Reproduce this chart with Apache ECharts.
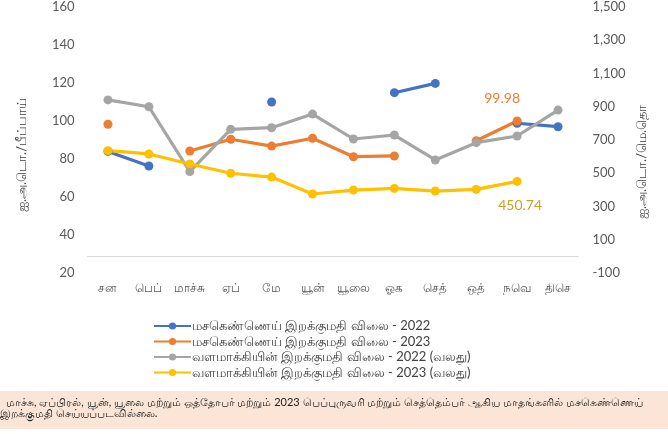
<!DOCTYPE html>
<html>
<head>
<meta charset="utf-8">
<script src="https://cdn.jsdelivr.net/npm/echarts@6/dist/echarts.min.js"></script>
<style>html,body{margin:0;padding:0;background:#fff}#c{width:668px;height:434px}</style>
</head>
<body>
<div id="c"></div>
<script>
const months = ['சன','பெப்','மாச்சு','ஏப்','மே','யூன்','யூலை','ஓக','செத்','ஒத்','நவெ','திசெ'];
const crude2022 = [84, 76.3, null, null, 110, null, null, 114.9, 119.8, null, 98.8, 97];
const crude2023 = [98.3, null, 84.2, 90.4, 86.8, 90.9, 81.2, 81.6, null, 89.6, 99.98, null];
const fert2022 = [941, 900, 510, 764, 774, 856, 706, 730, 580, 684, 724, 880];
const fert2023 = [636, 616, 556, 500, 477, 375, 399, 409, 393, 403, 450.74, null];
const seriesNames = ['மசகெண்ணெய் இறக்குமதி விலை - 2022','மசகெண்ணெய் இறக்குமதி விலை - 2023','வளமாக்கியின் இறக்குமதி விலை - 2022 (வலது)','வளமாக்கியின் இறக்குமதி விலை - 2023 (வலது)'];
const leftTicks = {min: 20, max: 160, interval: 20};
const rightTicks = {min: -100, max: 1500, interval: 200};
const leftName = 'ஐ.அ.டொ./பீப்பாய்';
const rightName = 'ஐ.அ.டொ./மெ.தொ';
const footLine1 = 'மாச்சு, ஏப்பிரல், யூன், யூலை மற்றும் ஒத்தோபர் மற்றும் 2023 பெப்புருவரி மற்றும் செத்தெம்பர் ஆகிய மாதங்களில் மசகெண்ணெய்';
const footLine2 = 'இறக்குமதி செய்யப்படவில்லை.';

const colors = ['#4472C4','#ED7D31','#A5A5A5','#FFC000'];
const FONT = 'Lato, "Noto Sans", sans-serif';
const chart = echarts.init(document.getElementById('c'), null, {renderer:'canvas'});
function mk(i, data, axis, label) {
  const s = {
    name: seriesNames[i], type: 'line', data: data, yAxisIndex: axis,
    symbol: 'circle', symbolSize: 9, connectNulls: false,
    lineStyle: {width: 3.2, color: colors[i]},
    itemStyle: {color: colors[i]},
    emphasis: {disabled: true}, animation: false
  };
  if (label) s.label = label;
  return s;
}
chart.setOption({
  animation: false,
  grid: {left: 87.5, right: 89.5, top: 7, bottom: 161},
  xAxis: {
    type: 'category', data: months, boundaryGap: true,
    axisLine: {lineStyle: {color: '#D9D9D9', width: 1}},
    axisTick: {show: false},
    axisLabel: {color: '#595959', fontSize: 12, margin: 9, interval: 0, fontFamily: FONT}
  },
  yAxis: [
    {type: 'value', min: leftTicks.min, max: leftTicks.max, interval: leftTicks.interval,
     axisLine: {show: false}, axisTick: {show: false}, splitLine: {show: false},
     axisLabel: {color: '#595959', fontSize: 13, margin: 13, fontFamily: FONT}},
    {type: 'value', min: rightTicks.min, max: rightTicks.max, interval: rightTicks.interval,
     axisLine: {show: false}, axisTick: {show: false}, splitLine: {show: false},
     axisLabel: {color: '#595959', fontSize: 13, margin: 14, fontFamily: FONT,
       formatter: v => v.toLocaleString('en-US')}}
  ],
  legend: {
    orient: 'vertical', left: 153, top: 319, padding: 0, itemWidth: 37, itemHeight: 9, itemGap: 1.5,
    data: seriesNames,
    textStyle: {color: '#404040', fontSize: 13, lineHeight: 14, fontFamily: FONT, padding: [0,0,0,-4]}
  },
  series: [
    mk(0, crude2022, 0),
    mk(1, crude2023, 0, {show: true, position: 'top', distance: 11, offset: [-15, 0], color: '#ED7D31', fontSize: 14, fontFamily: FONT,
        formatter: p => p.dataIndex === 10 ? String(p.value) : ''}),
    mk(2, fert2022, 1),
    mk(3, fert2023, 1, {show: true, position: 'bottom', distance: 13, offset: [3, 0], color: '#C9A227', fontSize: 14, fontFamily: FONT,
        formatter: p => p.dataIndex === 10 ? String(p.value) : ''})
  ],
  graphic: [
    {type: 'rect', left: 0, top: 391, shape: {width: 668, height: 38}, style: {fill: '#FBE5D6'}, z: -1},
    {type: 'text', left: 6, top: 397, style: {text: footLine1, fontSize: 11, fill: '#222', fontFamily: FONT}},
    {type: 'text', left: 0, top: 408, style: {text: footLine2, fontSize: 11, fill: '#222', fontFamily: FONT}},
    {type: 'text', x: 22, y: 155, rotation: Math.PI/2, style: {text: leftName, fontSize: 13, fill: '#404040', fontFamily: FONT, textAlign: 'center', textVerticalAlign: 'middle'}},
    {type: 'text', x: 642, y: 162, rotation: Math.PI/2, style: {text: rightName, fontSize: 13, fill: '#404040', fontFamily: FONT, textAlign: 'center', textVerticalAlign: 'middle'}}
  ]
});
</script>
</body>
</html>
